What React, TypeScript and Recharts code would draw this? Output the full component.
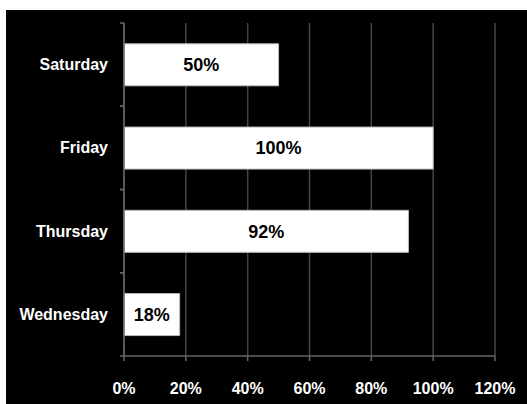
import React from "react";
import { BarChart, Bar, XAxis, YAxis, CartesianGrid, LabelList } from "recharts";

const days = ["Saturday", "Friday", "Thursday", "Wednesday"];
const percents = [50, 100, 92, 18];
const xTicks = [0, 20, 40, 60, 80, 100, 120];

const data = days.map((day, i) => ({ day, value: percents[i] }));

const FONT = "'Liberation Sans', Arial, Helvetica, sans-serif";

const YTick = (props: any) => {
  const { x, y, payload } = props;
  const off = payload && payload.offset ? payload.offset : 0;
  const axisX = x + 16;
  return (
    <g>
      <line x1={axisX - 4} y1={y - off} x2={axisX} y2={y - off} stroke="#666" strokeWidth={1.5} />
      <line x1={axisX - 4} y1={y + off} x2={axisX} y2={y + off} stroke="#666" strokeWidth={1.5} />
      <text
        x={x}
        y={y}
        dy="0.35em"
        textAnchor="end"
        fill="#fff"
        fontFamily={FONT}
        fontWeight="bold"
        fontSize={16}
      >
        {payload.value}
      </text>
    </g>
  );
};

export default function App() {
  return (
    <div
      style={{
        position: "absolute",
        left: 0,
        top: 0,
        width: 527,
        height: 404,
        background: "#fff",
        overflow: "hidden",
      }}
    >
      <div style={{ position: "absolute", left: 6, top: 10, width: 521, height: 394, background: "#000" }}>
        <BarChart
          width={521}
          height={394}
          data={data}
          layout="vertical"
          margin={{ top: 13, right: 32, bottom: 0, left: 0 }}
          barCategoryGap="25%"
        >
          <CartesianGrid horizontal={false} stroke="#444" strokeWidth={1.5} />
          <XAxis
            type="number"
            domain={[0, 120]}
            ticks={xTicks}
            interval={0}
            tickFormatter={(v: number) => `${v}%`}
            axisLine={{ stroke: "#666", strokeWidth: 1.5 }}
            tickLine={{ stroke: "#666", strokeWidth: 1.5 }}
            tickSize={5}
            tickMargin={22}
            height={48}
            tick={{ fill: "#fff", fontFamily: FONT, fontWeight: "bold", fontSize: 16 }}
          />
          <YAxis
            type="category"
            dataKey="day"
            width={118}
            axisLine={{ stroke: "#666", strokeWidth: 1.5 }}
            tickLine={false}
            tickSize={0}
            tickMargin={16}
            tick={<YTick />}
          />
          <Bar dataKey="value" fill="#fff" stroke="#bbb" strokeWidth={1} isAnimationActive={false}>
            <LabelList
              dataKey="value"
              position="center"
              formatter={(v: any) => `${v}%`}
              fill="#000"
              style={{ fontFamily: FONT, fontWeight: "bold", fontSize: 18 }}
            />
          </Bar>
        </BarChart>
      </div>
    </div>
  );
}
